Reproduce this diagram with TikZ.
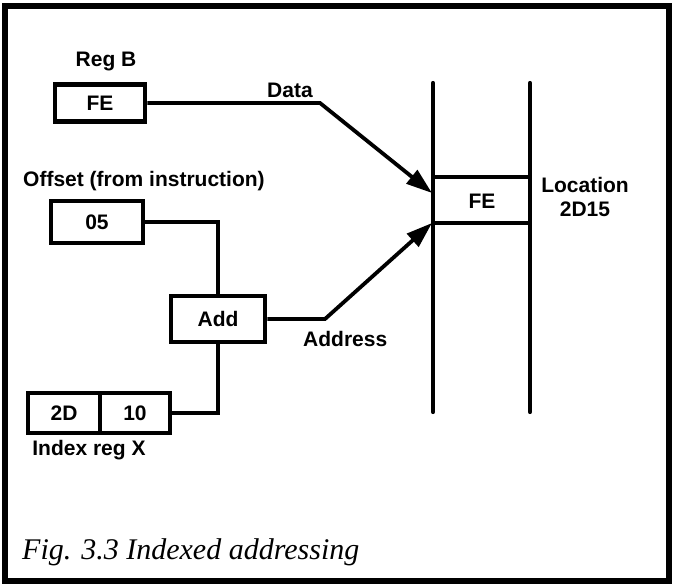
\documentclass[tikz,border=0pt]{standalone}
\usepackage{fontspec}
\setmainfont{Liberation Sans}
\newfontfamily\capfont{Liberation Serif}
\usetikzlibrary{arrows.meta}
\begin{document}
\begin{tikzpicture}[x=1pt,y=-1pt,
  lbl/.style={font=\fontsize{21}{24}\selectfont\bfseries, inner sep=0pt},
  regbox/.style={draw, line width=4.5pt, font=\fontsize{21}{24}\selectfont\bfseries, inner sep=0pt},
  conn/.style={line width=3.8pt},
  arr/.style={conn, -{Triangle[length=26pt,width=17pt]}},
  rail/.style={line width=4.2pt}
]
\useasboundingbox (0,0) rectangle (674,586);
\draw[line width=6pt] (5,6) rectangle (669,581);

% registers
\node[regbox, minimum width=90pt, minimum height=37pt] (regb) at (100,103) {FE};
\node[lbl] (regblbl) at (106,62) {Reg B};
\node[regbox, minimum width=92pt, minimum height=42pt] (off) at (97,222) {05};
\node[lbl, anchor=west] (offlbl) at (23,181) {Offset (from instruction)};
\node[regbox, minimum width=94pt, minimum height=46pt] (add) at (218,319) {Add};
\node[regbox, minimum width=72pt, minimum height=40pt] (hi) at (64,413) {2D};
\node[regbox, minimum width=70pt, minimum height=40pt] (ten) at (135,413) {10};
\node[lbl] (idxlbl) at (89,450) {Index reg X};

% memory column
\draw[rail, line cap=round] (433,83) -- (433,412);
\draw[rail, line cap=round] (530,83) -- (530,412);
\draw[rail] (433,177) -- (530,177);
\draw[rail] (433,223) -- (530,223);
\node[lbl] (loc) at (482,201) {FE};
\node[lbl, align=center] (loclbl) at (585,197) {Location\\2D15};

% connectors
\coordinate (d1) at (320,103);
\coordinate (dtip) at (432,193);
\coordinate (a1) at (325,319);
\coordinate (atip) at (432,223);
\draw[arr] (regb.east) -- (d1) -- (dtip);
\node[lbl] (datalbl) at (290,90) {Data};
\draw[conn] (off.east) -| (add.north);
\draw[conn] (add.south) |- (ten.east);
\draw[arr] (add.east) -- (a1) -- (atip);
\node[lbl, anchor=west] (addrlbl) at (303,339) {Address};

% caption
\node[anchor=base west, font=\capfont\itshape\fontsize{30}{35}\selectfont, inner sep=0pt] (cap) at (22,559) {Fig. 3.3 Indexed addressing};
\end{tikzpicture}
\end{document}
